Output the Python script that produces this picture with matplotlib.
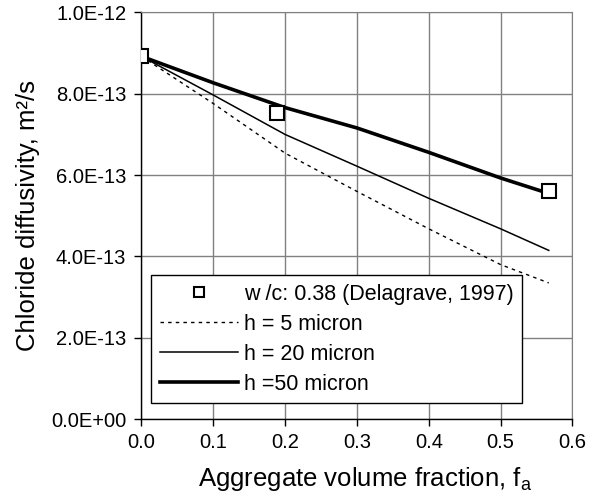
import matplotlib
matplotlib.use("Agg")
import matplotlib.pyplot as plt
from matplotlib.ticker import FuncFormatter

plt.rcParams['font.family'] = ['Liberation Sans', 'DejaVu Sans']
plt.rcParams['mathtext.fontset'] = 'custom'
plt.rcParams['mathtext.rm'] = 'Liberation Sans'
plt.rcParams['mathtext.it'] = 'Liberation Sans'

# Experimental data (Delagrave, 1997)
exp_x = [0.0, 0.188, 0.567]
exp_y = [8.92e-13, 7.52e-13, 5.62e-13]

# Model curves
fa = [0.0, 0.1, 0.2, 0.3, 0.4, 0.5, 0.567]
h5 = [8.92e-13, 7.76e-13, 6.54e-13, 5.60e-13, 4.68e-13, 3.80e-13, 3.35e-13]
h20 = [8.92e-13, 7.97e-13, 7.00e-13, 6.22e-13, 5.43e-13, 4.68e-13, 4.15e-13]
h50 = [8.92e-13, 8.27e-13, 7.66e-13, 7.16e-13, 6.56e-13, 5.93e-13, 5.55e-13]

fig = plt.figure(figsize=(5.92, 4.99), dpi=100)
ax = fig.add_axes([0.239, 0.160, 0.728, 0.815])

ax.plot(exp_x, exp_y, 's', color='black', markerfacecolor='white',
        markersize=9.5, markeredgewidth=1.5, zorder=5,
        label="w /c: 0.38 (Delagrave, 1997)")
ax.plot(fa, h5, color='black', lw=1.0, linestyle=(0, (2.5, 3)), label="h = 5 micron")
ax.plot(fa, h20, color='black', lw=1.1, label="h = 20 micron")
ax.plot(fa, h50, color='black', lw=2.6, label="h =50 micron")

ax.set_xlim(0, 0.6)
ax.set_ylim(0, 1e-12)
ax.set_xticks([0, 0.1, 0.2, 0.3, 0.4, 0.5, 0.6])
ax.set_yticks([0, 2e-13, 4e-13, 6e-13, 8e-13, 1e-12])
ax.xaxis.set_major_formatter(FuncFormatter(lambda v, p: f"{v:.1f}"))
ax.yaxis.set_major_formatter(FuncFormatter(lambda v, p: f"{v:.1E}"))
ax.tick_params(labelsize=14.5, direction='out', length=5, width=1, color='black')
ax.tick_params(axis='x', pad=5)
ax.tick_params(axis='y', pad=6)

ax.grid(True, color='#808080', linewidth=1)
ax.set_axisbelow(True)
for s in ['top', 'right']:
    ax.spines[s].set_color('#808080')
for s in ['left', 'bottom']:
    ax.spines[s].set_color('black')
    ax.spines[s].set_linewidth(1)

ax.set_xlabel(r"Aggregate volume fraction, f$_\mathrm{a}$", fontsize=18.5, labelpad=9)
ax.xaxis.label.set_x(0.52)
ax.set_ylabel("Chloride diffusivity, m²/s", fontsize=18.5, labelpad=8)

leg = ax.legend(loc='lower left', bbox_to_anchor=(0.023, 0.039), fontsize=15.5,
                frameon=True, fancybox=False, edgecolor='black', framealpha=1,
                handlelength=3.6, handletextpad=0.3, markerscale=0.7,
                borderaxespad=0, labelspacing=0.42, borderpad=0.4)
leg.get_frame().set_linewidth(1)

fig.savefig("out.png", dpi=100)
